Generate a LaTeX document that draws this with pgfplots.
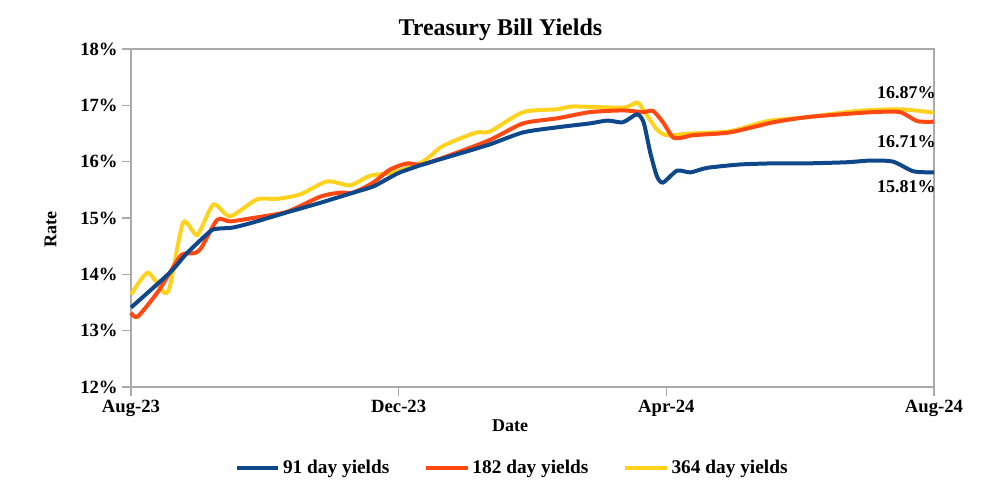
\documentclass[border=0pt]{standalone}
\usepackage{pgfplots}
\pgfplotsset{compat=1.18}
\usepackage{fontspec}
\setmainfont{Liberation Serif}
\definecolor{cblue}{RGB}{14,72,138}
\definecolor{cred}{RGB}{255,72,18}
\definecolor{cyel}{RGB}{255,210,30}
\definecolor{cgray}{RGB}{170,170,170}
\begin{document}
\begin{tikzpicture}
\useasboundingbox (-98.25pt,-75pt) rectangle (637.5pt,290.25pt);
\begin{axis}[
  at={(0,0)}, anchor=south west,
  scale only axis, width=602.25pt, height=253.5pt,
  xmin=0, xmax=12, ymin=12, ymax=18,
  xtick={0,4,8,12}, xticklabels={Aug-23,Dec-23,Apr-24,Aug-24},
  ytick={12,13,14,15,16,17,18},
  yticklabel={\pgfmathprintnumber{\tick}\%},
  /pgf/number format/assume math mode=true,
  tick label style={font=\fontsize{14}{16}\selectfont\bfseries},
  xtick pos=bottom, ytick pos=left, tick align=outside,
  major tick length=6.5pt,
  axis line style={cgray, line width=0.9pt},
  tick style={cgray, line width=0.9pt},
  xlabel={Date}, ylabel={Rate},
  xlabel style={font=\fontsize{13.5}{15}\selectfont\bfseries, at={(axis description cs:0.472,-0.115)}, anchor=center},
  ylabel style={font=\fontsize{13.5}{15}\selectfont\bfseries, at={(axis description cs:-0.1,0.467)}, anchor=center, rotate=0},
  legend columns=3,
  legend style={draw=none, font=\fontsize{14.5}{16}\selectfont\bfseries, at={(axis description cs:0.475,-0.24)}, anchor=center,
    /tikz/every even column/.append style={column sep=24pt}},
  legend image code/.code={\draw[#1, line width=3pt] (0cm,0cm) -- (1.1cm,0cm);},
  clip=false,
]
\addlegendimage{cblue, line width=3pt}\addlegendentry{91 day yields}
\addlegendimage{cred, line width=3pt}\addlegendentry{182 day yields}
\addlegendimage{cyel, line width=3pt}\addlegendentry{364 day yields}
\addplot[cyel, line width=3pt, smooth, tension=0.42, forget plot] coordinates {
(0,13.64)(0.25,14.03)(0.48,13.69)(0.58,13.78)(0.78,14.92)(0.99,14.70)(1.23,15.24)(1.48,15.03)(1.88,15.33)(2.18,15.34)(2.53,15.42)(2.93,15.65)(3.27,15.58)(3.57,15.75)(3.92,15.81)(4.36,16.00)(4.62,16.25)(4.87,16.39)(5.17,16.52)(5.37,16.54)(5.86,16.88)(6.37,16.93)(6.61,16.98)(7.35,16.96)(7.56,17.05)(7.65,16.93)(7.86,16.57)(8.01,16.47)(8.36,16.50)(8.95,16.54)(9.51,16.72)(10.10,16.79)(10.85,16.90)(11.49,16.93)(12.0,16.87)
};
\addplot[cred, line width=3pt, smooth, tension=0.42, forget plot] coordinates {
(0,13.32)(0.10,13.25)(0.39,13.67)(0.58,14.03)(0.76,14.35)(0.96,14.38)(1.06,14.49)(1.29,14.97)(1.48,14.94)(1.82,15.00)(2.33,15.11)(2.83,15.38)(3.12,15.45)(3.32,15.45)(3.62,15.63)(3.87,15.86)(4.13,15.97)(4.36,15.95)(4.87,16.16)(5.37,16.39)(5.86,16.68)(6.37,16.77)(6.86,16.88)(7.35,16.91)(7.65,16.88)(7.80,16.90)(7.95,16.70)(8.10,16.43)(8.25,16.43)(8.40,16.47)(8.95,16.52)(9.60,16.70)(10.10,16.79)(10.60,16.84)(11.09,16.88)(11.49,16.88)(11.75,16.72)(12.0,16.71)
};
\addplot[cblue, line width=3pt, smooth, tension=0.42, forget plot] coordinates {
(0,13.41)(0.58,14.03)(0.84,14.38)(1.18,14.76)(1.29,14.81)(1.52,14.83)(1.82,14.92)(2.33,15.10)(2.83,15.27)(3.32,15.45)(3.62,15.56)(3.87,15.72)(4.02,15.81)(4.36,15.95)(4.87,16.13)(5.37,16.31)(5.86,16.52)(6.37,16.61)(6.86,16.68)(7.12,16.73)(7.35,16.70)(7.56,16.84)(7.66,16.70)(7.76,16.16)(7.86,15.74)(7.95,15.63)(8.16,15.84)(8.36,15.81)(8.61,15.89)(9.10,15.95)(9.60,15.97)(10.10,15.97)(10.70,15.99)(11.05,16.02)(11.39,16.00)(11.69,15.83)(12.0,15.81)
};
\node[font=\fontsize{18}{21}\selectfont\bfseries, inner sep=0pt] at (axis description cs:0.46,1.056) {Treasury Bill Yields};
\node[anchor=east, font=\fontsize{13.5}{15}\selectfont\bfseries, inner sep=0pt] at (axis cs:12.03,17.23) {16.87\%};
\node[anchor=east, font=\fontsize{13.5}{15}\selectfont\bfseries, inner sep=0pt] at (axis cs:12.03,16.36) {16.71\%};
\node[anchor=east, font=\fontsize{13.5}{15}\selectfont\bfseries, inner sep=0pt] at (axis cs:12.03,15.56) {15.81\%};
\end{axis}
\end{tikzpicture}
\end{document}
